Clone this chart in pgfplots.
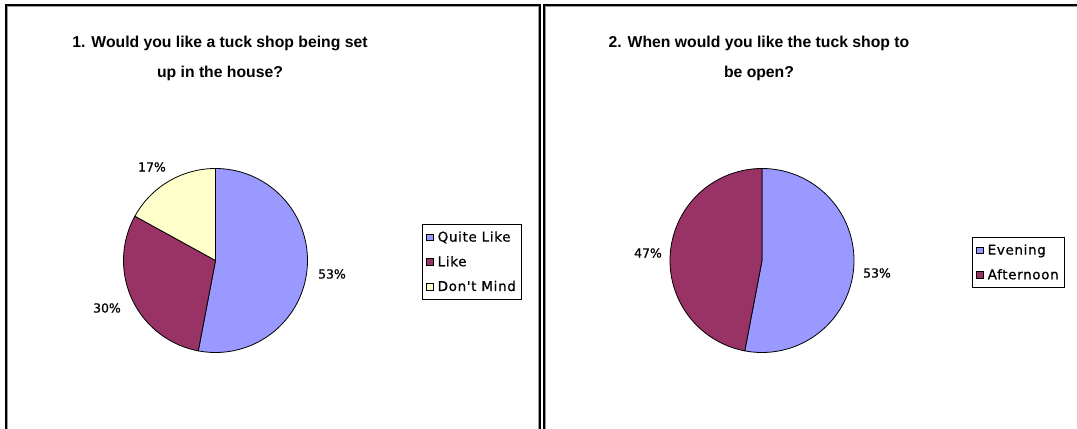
\documentclass[border=0pt]{standalone}
\usepackage{fontspec}
\setmainfont{Liberation Sans}
\newfontfamily\dejavu{DejaVu Sans}[FakeBold=0.8]
\newfontfamily\dejavuleg{DejaVu Sans}[FakeBold=0.8,LetterSpace=5]
\usepackage{pgfplots}
\pgfplotsset{compat=1.18}
\definecolor{periwinkle}{HTML}{9999FF}
\definecolor{plum}{HTML}{993366}
\definecolor{ivory}{HTML}{FFFFCC}
\definecolor{shadowgray}{HTML}{9A9A9A}

% ---- data (percentages) ----
% Chart 1: Quite Like, Like, Don't Mind
\def\qlike{53}\def\like{30}\def\dmind{17}
% Chart 2: Evening, Afternoon
\def\eve{53}\def\aft{47}
\pgfmathsetmacro\aA{3.6*\qlike}
\pgfmathsetmacro\aB{3.6*(\qlike+\like)}
\pgfmathsetmacro\bA{3.6*\eve}

\newcommand\lblfont{\dejavu\fontsize{12.5}{12.5}\selectfont}
\newcommand\legfont{\dejavuleg\fontsize{13.5}{13.5}\selectfont}
\newcommand\titlefont{\bfseries\fontsize{15.8}{30}\selectfont}

\pgfplotsset{
  panel/.style={
    scale only axis, height=429bp,
    ymin=0, ymax=429, hide axis, clip=false,
    anchor=south west,
    legend style={draw=black, line width=0.8bp, fill=white,
      font=\legfont, anchor=north west,
      row sep=9bp, inner xsep=4bp, inner ysep=5bp,
      cells={anchor=west}},
    legend image code/.code={%
      \path[draw=none,fill=none] (0bp,0bp) -- (9bp,0bp);
      \draw[##1,draw=black,line width=0.6bp] (0bp,-3.2bp) rectangle (6.4bp,3.2bp);},
  },
  slice/.style={draw=black, line width=0.8bp, samples=120, variable=\t},
}

\begin{document}
\begin{tikzpicture}
\useasboundingbox (0,0) rectangle (1077bp,429bp);
\fill[white] (0,0) rectangle (1077bp,429bp);

% ---------------- Panel 1 ----------------
\begin{axis}[panel, at={(0bp,0bp)}, width=540bp, xmin=0, xmax=540,
  legend style={at={(0.7815,0.4779)}}]
\addplot[slice, fill=periwinkle, domain=0:\aA]
  ({215.5+92*sin(t)},{168.5+92*cos(t)}) -- (axis cs:215.5,168.5) -- cycle;
\addlegendentry{Quite Like}
\addplot[slice, fill=plum, domain=\aA:\aB]
  ({215.5+92*sin(t)},{168.5+92*cos(t)}) -- (axis cs:215.5,168.5) -- cycle;
\addlegendentry{Like}
\addplot[slice, fill=ivory, domain=\aB:360]
  ({215.5+92*sin(t)},{168.5+92*cos(t)}) -- (axis cs:215.5,168.5) -- cycle;
\addlegendentry{Don't Mind}
\node[font=\lblfont] at (axis cs:152,262) {17\%};
\node[font=\lblfont] at (axis cs:332,155) {53\%};
\node[font=\lblfont] at (axis cs:107,121) {30\%};
\node[font=\titlefont, align=center]
  at (axis cs:220,371) {1. Would you like a tuck shop being set\\up in the house?};
\end{axis}

% ---------------- Panel 2 ----------------
\begin{axis}[panel, at={(540bp,0bp)}, width=537bp, xmin=540, xmax=1077,
  legend style={at={(0.8045,0.4476)}}]
\addplot[slice, fill=periwinkle, domain=0:\bA]
  ({762+92*sin(t)},{168.5+92*cos(t)}) -- (axis cs:762,168.5) -- cycle;
\addlegendentry{Evening}
\addplot[slice, fill=plum, domain=\bA:360]
  ({762+92*sin(t)},{168.5+92*cos(t)}) -- (axis cs:762,168.5) -- cycle;
\addlegendentry{Afternoon}
\node[font=\lblfont] at (axis cs:648,176) {47\%};
\node[font=\lblfont] at (axis cs:877,156) {53\%};
\node[font=\titlefont, align=center]
  at (axis cs:759,371) {2. When would you like the tuck shop to\\be open?};
\end{axis}

% ---------------- panel frames ----------------
\draw[shadowgray, line width=1bp] (7.8bp,0) -- (7.8bp,422.2bp) -- (538.2bp,422.2bp) -- (538.2bp,0);
\draw[shadowgray, line width=1bp] (545.8bp,0) -- (545.8bp,422.2bp) -- (1077bp,422.2bp);
\draw[black, line width=1.4bp] (6bp,0) -- (6bp,424bp) -- (540bp,424bp) -- (540bp,0);
\draw[black, line width=1.4bp] (544bp,0) -- (544bp,424bp) -- (1077bp,424bp);
\end{tikzpicture}
\end{document}
